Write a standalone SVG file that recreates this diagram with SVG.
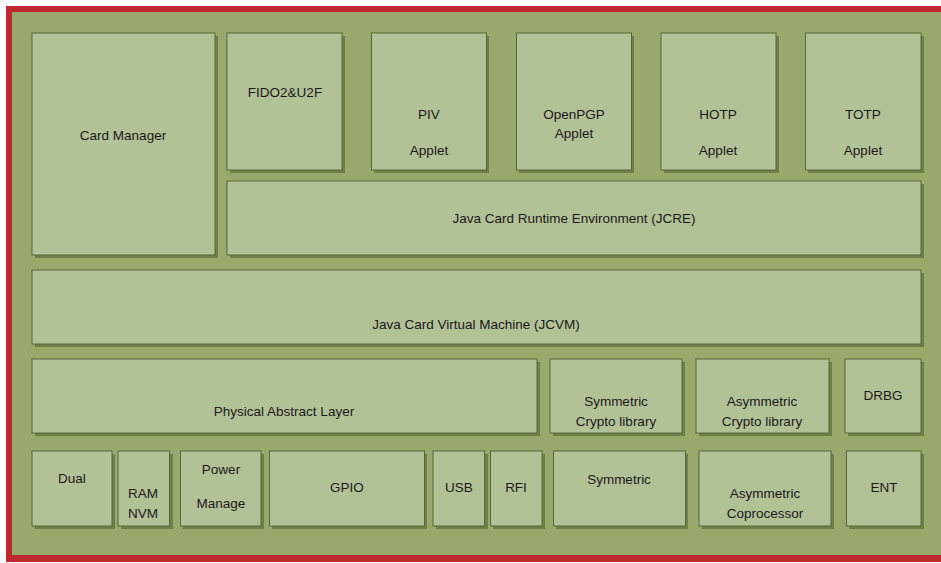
<svg xmlns="http://www.w3.org/2000/svg" width="941" height="563" viewBox="0 0 941 563">
<defs>
<style>
.bx{fill:#b3c197;stroke:#56663a;stroke-width:1}
.sh{fill:#6f7f48}
text{font-family:"Liberation Sans",Arial,sans-serif;font-size:13.5px;fill:#1a1a1a;text-anchor:middle}
</style>
</defs>
<rect x="0" y="0" width="941" height="563" fill="#ffffff"/>
<rect x="6" y="6" width="935" height="556" fill="#c0282f"/>
<rect x="12" y="12" width="929" height="543" fill="#98a96b"/>
<g id="card-manager"><rect class="sh" x="35" y="36" width="183" height="222"/><rect class="bx" x="32" y="33" width="183" height="222"/><text x="123" y="140">Card Manager</text></g>
<g id="fido"><rect class="sh" x="230" y="36" width="115" height="137"/><rect class="bx" x="227" y="33" width="115" height="137"/><text x="285" y="97">FIDO2&amp;U2F</text></g>
<g id="piv"><rect class="sh" x="374" y="36" width="115" height="137"/><rect class="bx" x="371.5" y="33" width="115" height="137"/><text x="429" y="119">PIV</text><text x="429" y="155">Applet</text></g>
<g id="openpgp"><rect class="sh" x="519" y="36" width="115" height="137"/><rect class="bx" x="516.5" y="33" width="115" height="137"/><text x="574" y="119">OpenPGP</text><text x="574" y="138">Applet</text></g>
<g id="hotp"><rect class="sh" x="664" y="36" width="115" height="137"/><rect class="bx" x="661" y="33" width="115" height="137"/><text x="718" y="119">HOTP</text><text x="718" y="155">Applet</text></g>
<g id="totp"><rect class="sh" x="808" y="36" width="116" height="137"/><rect class="bx" x="805.5" y="33" width="115.5" height="137"/><text x="863" y="119">TOTP</text><text x="863" y="155">Applet</text></g>
<g id="jcre"><rect class="sh" x="230" y="184" width="694" height="74"/><rect class="bx" x="227" y="181" width="694" height="74"/><text x="574" y="223">Java Card Runtime Environment (JCRE)</text></g>
<g id="jcvm"><rect class="sh" x="35" y="273" width="889" height="74"/><rect class="bx" x="32" y="270" width="889" height="74"/><text x="476" y="329">Java Card Virtual Machine (JCVM)</text></g>
<g id="pal"><rect class="sh" x="35" y="362" width="505" height="74"/><rect class="bx" x="32" y="359" width="505" height="74"/><text x="284" y="416">Physical Abstract Layer</text></g>
<g id="sym-lib"><rect class="sh" x="553" y="362" width="132" height="74"/><rect class="bx" x="550" y="359" width="132" height="74"/><text x="616" y="406">Symmetric</text><text x="616" y="426">Crypto library</text></g>
<g id="asym-lib"><rect class="sh" x="699" y="362" width="133" height="74"/><rect class="bx" x="696" y="359" width="133" height="74"/><text x="762" y="406">Asymmetric</text><text x="762" y="426">Crypto library</text></g>
<g id="drbg"><rect class="sh" x="848" y="362" width="76" height="74"/><rect class="bx" x="845" y="359" width="76" height="74"/><text x="883" y="400">DRBG</text></g>
<g id="dual"><rect class="sh" x="35" y="454" width="80" height="75"/><rect class="bx" x="32" y="451" width="80" height="75"/><text x="72" y="483">Dual</text></g>
<g id="ram-nvm"><rect class="sh" x="121" y="454" width="52" height="75"/><rect class="bx" x="118" y="451" width="51.5" height="75"/><text x="143" y="498">RAM</text><text x="143" y="518">NVM</text></g>
<g id="power"><rect class="sh" x="183" y="454" width="81" height="75"/><rect class="bx" x="180.5" y="451" width="80.5" height="75"/><text x="221" y="474">Power</text><text x="221" y="508">Manage</text></g>
<g id="gpio"><rect class="sh" x="272" y="454" width="155" height="75"/><rect class="bx" x="269.5" y="451" width="155" height="75"/><text x="347" y="492">GPIO</text></g>
<g id="usb"><rect class="sh" x="436" y="454" width="52" height="75"/><rect class="bx" x="433" y="451" width="51.5" height="75"/><text x="459" y="492">USB</text></g>
<g id="rfi"><rect class="sh" x="493" y="454" width="52" height="75"/><rect class="bx" x="490.5" y="451" width="51.5" height="75"/><text x="516" y="492">RFI</text></g>
<g id="symmetric"><rect class="sh" x="556" y="454" width="132" height="75"/><rect class="bx" x="553.5" y="451" width="132" height="75"/><text x="619" y="484">Symmetric</text></g>
<g id="asym-cop"><rect class="sh" x="702" y="454" width="132" height="75"/><rect class="bx" x="699" y="451" width="132" height="75"/><text x="765" y="498">Asymmetric</text><text x="765" y="518">Coprocessor</text></g>
<g id="ent"><rect class="sh" x="849" y="454" width="75" height="75"/><rect class="bx" x="846.5" y="451" width="74.5" height="75"/><text x="884" y="492">ENT</text></g>
<g id="connectors"></g>
</svg>
